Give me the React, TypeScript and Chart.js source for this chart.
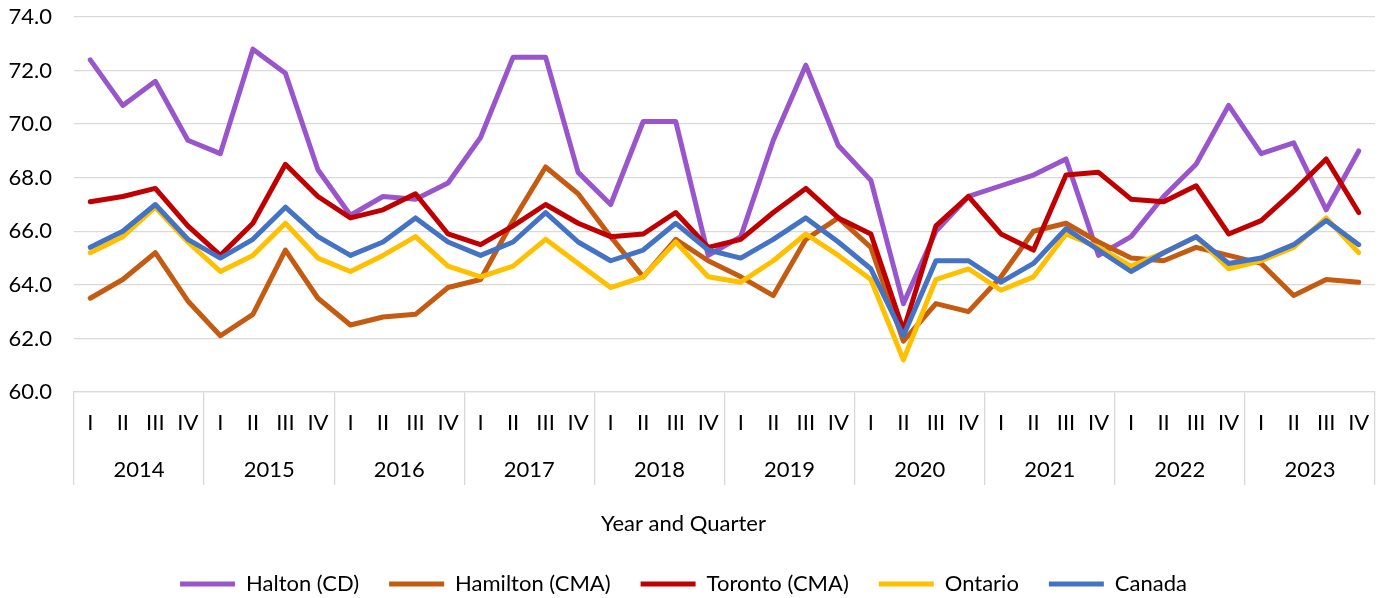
import React, { useEffect, useRef } from "react";
import { Chart, registerables } from "chart.js";

Chart.register(...registerables);

const years = ["2014", "2015", "2016", "2017", "2018", "2019", "2020", "2021", "2022", "2023"];
const quarterNames = ["I", "II", "III", "IV"];
const quarters: string[] = years.flatMap(() => quarterNames);

const halton = [72.4, 70.7, 71.6, 69.4, 68.9, 72.8, 71.9, 68.3, 66.6, 67.3, 67.2, 67.8, 69.5, 72.5, 72.5, 68.2, 67.0, 70.1, 70.1, 65.1, 65.8, 69.4, 72.2, 69.2, 67.9, 63.3, 66.0, 67.3, 67.7, 68.1, 68.7, 65.1, 65.8, 67.3, 68.5, 70.7, 68.9, 69.3, 66.8, 69.0];
const hamilton = [63.5, 64.2, 65.2, 63.4, 62.1, 62.9, 65.3, 63.5, 62.5, 62.8, 62.9, 63.9, 64.2, 66.4, 68.4, 67.4, 65.8, 64.3, 65.7, 64.9, 64.3, 63.6, 65.7, 66.5, 65.4, 61.9, 63.3, 63.0, 64.3, 66.0, 66.3, 65.6, 65.0, 64.9, 65.4, 65.1, 64.8, 63.6, 64.2, 64.1];
const toronto = [67.1, 67.3, 67.6, 66.2, 65.1, 66.3, 68.5, 67.3, 66.5, 66.8, 67.4, 65.9, 65.5, 66.2, 67.0, 66.3, 65.8, 65.9, 66.7, 65.4, 65.7, 66.7, 67.6, 66.5, 65.9, 62.3, 66.2, 67.3, 65.9, 65.3, 68.1, 68.2, 67.2, 67.1, 67.7, 65.9, 66.4, 67.5, 68.7, 66.7];
const ontario = [65.2, 65.8, 66.9, 65.6, 64.5, 65.1, 66.3, 65.0, 64.5, 65.1, 65.8, 64.7, 64.3, 64.7, 65.7, 64.8, 63.9, 64.3, 65.6, 64.3, 64.1, 64.9, 65.9, 65.1, 64.2, 61.2, 64.2, 64.6, 63.8, 64.3, 65.9, 65.4, 64.7, 65.2, 65.8, 64.6, 64.9, 65.4, 66.5, 65.2];
const canada = [65.4, 66.0, 67.0, 65.7, 65.0, 65.7, 66.9, 65.8, 65.1, 65.6, 66.5, 65.6, 65.1, 65.6, 66.7, 65.6, 64.9, 65.3, 66.3, 65.3, 65.0, 65.7, 66.5, 65.6, 64.6, 62.1, 64.9, 64.9, 64.1, 64.8, 66.1, 65.3, 64.5, 65.2, 65.8, 64.8, 65.0, 65.5, 66.4, 65.5];

const seriesNames = ["Halton (CD)", "Hamilton (CMA)", "Toronto (CMA)", "Ontario", "Canada"];
const seriesColors = ["#9955CC", "#C55A11", "#C00000", "#FFC000", "#4472C4"];
const seriesValues = [halton, hamilton, toronto, ontario, canada];

const yTicks = { min: 60, max: 74, step: 2 };
const xTitle = "Year and Quarter";

const FONT = "Lato, 'Open Sans', sans-serif";
const GRID = "#d9d9d9";

export default function App() {
  const ref = useRef<HTMLCanvasElement | null>(null);

  useEffect(() => {
    if (!ref.current) return;
    const chart = new Chart(ref.current, {
      type: "line",
      data: {
        labels: quarters,
        datasets: seriesValues.map((vals, i) => ({
          label: seriesNames[i],
          data: vals,
          borderColor: seriesColors[i],
          backgroundColor: seriesColors[i],
          borderWidth: 5,
          pointRadius: 0,
          pointHoverRadius: 0,
          tension: 0,
          borderJoinStyle: "round" as const,
          borderCapStyle: "round" as const,
          fill: false,
          order: seriesNames.length - i,
        })),
      },
      options: {
        animation: false,
        responsive: true,
        maintainAspectRatio: false,
        layout: { padding: { top: 17, left: -8, right: 6, bottom: -7 } },
        plugins: {
          tooltip: { enabled: false },
          title: {
            display: true,
            position: "bottom",
            weight: 500,
            text: xTitle,
            color: "#000",
            font: { family: FONT, size: 22, weight: "normal" },
            padding: { top: 11.8, bottom: 5.8 },
          },
          legend: {
            position: "bottom",
            weight: 1000,
            labels: {
              usePointStyle: true,
              pointStyle: "line",
              pointStyleWidth: 55,
              padding: 30,
              color: "#000",
              font: { family: FONT, size: 22 },
              sort: (a: any, b: any) => a.datasetIndex - b.datasetIndex,
            },
          },
        },
        scales: {
          y: {
            min: yTicks.min,
            max: yTicks.max,
            ticks: {
              stepSize: yTicks.step,
              padding: 0,
              color: "#000",
              font: { family: FONT, size: 22 },
              callback: (v: any) => Number(v).toFixed(1),
            },
            grid: { color: GRID, lineWidth: 1.3, drawTicks: true, tickLength: 22, tickColor: "rgba(0,0,0,0)" },
            border: { display: false },
            afterFit: (s: any) => {
              s.width = 82;
            },
          },
          x: {
            type: "category",
            offset: true,
            weight: 0,
            grid: {
              offset: true,
              drawOnChartArea: false,
              drawTicks: true,
              tickLength: 93,
              lineWidth: 1.3,
              color: (c: any) => (c.type !== "tick" || c.index % 4 === 0 ? GRID : "rgba(0,0,0,0)"),
            },
            border: { display: true, color: GRID, width: 1.3 },
            ticks: {
              autoSkip: false,
              maxRotation: 0,
              minRotation: 0,
              padding: -75.2,
              color: "#000",
              font: { family: FONT, size: 22 },
            },
            afterFit: (s: any) => {
              s.height = 47;
            },
          },
          x2: {
            type: "category",
            axis: "x",
            position: "bottom",
            labels: years,
            offset: true,
            weight: 1,
            grid: { display: false, drawTicks: false, drawOnChartArea: false },
            border: { display: false },
            ticks: {
              autoSkip: false,
              maxRotation: 0,
              minRotation: 0,
              padding: 17.8,
              color: "#000",
              font: { family: FONT, size: 22 },
            },
            afterFit: (s: any) => {
              s.height = 60;
            },
          },
        },
      } as any,
    });
    return () => chart.destroy();
  }, []);

  return (
    <div style={{ position: "absolute", left: 0, top: 0, width: 1381, height: 598, background: "#fff" }}>
      <canvas ref={ref} />
    </div>
  );
}
